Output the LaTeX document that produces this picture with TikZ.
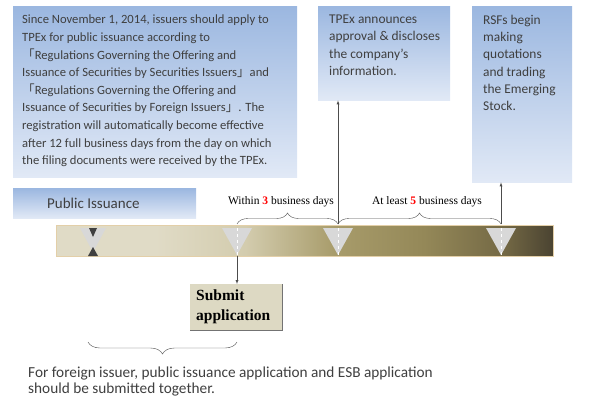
\documentclass[tikz,border=0pt]{standalone}
\usepackage{fontspec}
\setmainfont{Carlito}
\newfontfamily\serifface{Liberation Serif}
\newfontfamily\cjk{Noto Sans CJK SC}
\usetikzlibrary{decorations.pathreplacing, positioning}
\definecolor{noteText}{HTML}{3F3F3F}
\definecolor{boxTop}{HTML}{9BB7E0}
\definecolor{boxBottom}{HTML}{E1E9F6}
\definecolor{barA}{HTML}{E0DBC6}
\definecolor{barB}{HTML}{D3CCAE}
\definecolor{barC}{HTML}{A89C6B}
\definecolor{barD}{HTML}{948858}
\definecolor{barE}{HTML}{746945}
\definecolor{barF}{HTML}{4A4331}
\definecolor{barEdge}{HTML}{E3CFA8}
\definecolor{markGray}{HTML}{D8D8D8}
\definecolor{submitFill}{HTML}{DDD9C3}
\pgfdeclarehorizontalshading{barshade}{100bp}{color(0bp)=(barA); color(25bp)=(barA); color(35bp)=(barA); color(44bp)=(barB); color(53bp)=(barC); color(62bp)=(barD); color(70bp)=(barE); color(75bp)=(barF); color(100bp)=(barF)}
\tikzset{
  note box/.style={
    rectangle,
    inner sep=0pt,
    top color=boxTop,
    bottom color=boxBottom,
    anchor=north west,
  },
  note text/.style={
    align=left,
    inner sep=0pt,
    text=noteText,
    font=\fontsize{12.6}{17.6}\selectfont,
  },
  day label/.style={
    font=\serifface\fontsize{11.5}{13}\selectfont,
  },
  day mark/.style={
    fill=markGray,
  },
  day brace/.style={
    decorate,
    decoration={brace, amplitude=11pt},
    draw=black!70,
    thin,
  },
}

\begin{document}
\begin{tikzpicture}[x=1pt, y=1pt]
        \useasboundingbox (0,0) rectangle (594,408);

        % notes on top
        \node[note box, minimum width=284pt, minimum height=171pt] (issueBox)    at ( 13,402) {};
        \node[note box, minimum width=132pt, minimum height=94pt]  (announceBox) at (318,402) {};
        \node[note box, minimum width=100pt, minimum height=176pt] (tradeBox)    at (472,402) {};

        \node[note text, below right=9pt and 9pt of issueBox.north west] (issueText) {%
          Since November 1, 2014, issuers should apply to\\
          TPEx for public issuance according to\\
          {\cjk 「}Regulations Governing the Offering and\\
          Issuance of Securities by Securities Issuers{\cjk 」}and\\
          {\cjk 「}Regulations Governing the Offering and\\
          Issuance of Securities by Foreign Issuers{\cjk 」}. The\\
          registration will automatically become effective\\
          after 12 full business days from the day on which\\
          the filing documents were received by the TPEx.};
        \node[note text, below right=9pt and 11pt of announceBox.north west,
              font=\fontsize{13.4}{17.2}\selectfont] (announceText) {%
          TPEx announces\\
          approval \& discloses\\
          the company's\\
          information.};
        \node[note text, below right=9pt and 11pt of tradeBox.north west,
              font=\fontsize{13.4}{17.2}\selectfont] (tradeText) {%
          RSFs begin\\
          making\\
          quotations\\
          and trading\\
          the Emerging\\
          Stock.};

        \node[note box, minimum width=183pt, minimum height=30pt] (pubBox) at (13,220) {};
        \node[right=34pt of pubBox.west, inner sep=0pt, text=noteText,
              font=\fontsize{15}{17}\selectfont] (pubText) {Public Issuance};

        % time bar
        \node[rectangle, minimum width=497pt, minimum height=31pt, anchor=north west,
              shading=barshade, draw=barEdge, line width=0.6pt] (bar) at (56,183) {};

        \coordinate (t0) at ( 93,180);
        \coordinate (t1) at (237,180);
        \coordinate (t2) at (338,180);
        \coordinate (t3) at (501,180);

        \fill[day mark] (t0) ++(-13,0) -- ++(26,0) -- ++(-13,-24) -- cycle;
        \fill[black!75] (t0) ++(-4,0) -- ++(8,0) -- ++(-4,-9) -- cycle;
        \fill[black!75] (t0) ++(-5,-28) -- ++(10,0) -- ++(-5,9) -- cycle;
        \foreach \t in {t1, t2, t3} {
          \fill[day mark] (\t) ++(-15,0) -- ++(30,0) -- ++(-15,-27) -- cycle;
          \draw[white, dashed, line width=0.5pt] (\t) -- ++(0,-27);
        }

        % braces over the bar
        \coordinate (b1) at (237,184);
        \coordinate (b2) at (338,184);
        \coordinate (b3) at (501,184);
        \draw[day brace] (b1) -- (b2);
        \draw[day brace] (b2) -- (b3);
        \node[day label] (within) at (281,206) {Within \textcolor{red}{\textbf{3}} business days};
        \node[day label] (atleast) at (427,206) {At least \textcolor{red}{\textbf{5}} business days};

        \draw[-latex, black!70] (b2) -- (b2 |- announceBox.south);
        \draw[-latex, black!70] (b3) -- (b3 |- tradeBox.south);

        % submit
        \node[rectangle, fill=submitFill, anchor=north west, minimum height=46pt,
              text width=80pt, inner xsep=6pt, align=left,
              font=\serifface\bfseries\fontsize{15.5}{20}\selectfont] (submitBox) at (190,124)
              {Submit\\application};
        \draw[black!55, line width=1.5pt] (submitBox.north east) -- (submitBox.south east) -- (submitBox.south west);
        \coordinate (s1) at (237,152);
        \draw[-latex, black!70] (s1) -- (s1 |- submitBox.north);

        % foreign issuer
        \coordinate (f1) at (237,66);
        \coordinate (f2) at ( 88,66);
        \draw[day brace, decoration={brace, amplitude=12pt}] (f1) -- (f2);
        \node[note text, anchor=north west, font=\fontsize{15.3}{16}\selectfont] (footText) at (28,41) {%
          For foreign issuer, public issuance application and ESB application\\
          should be submitted together.};
      \end{tikzpicture}
\end{document}
